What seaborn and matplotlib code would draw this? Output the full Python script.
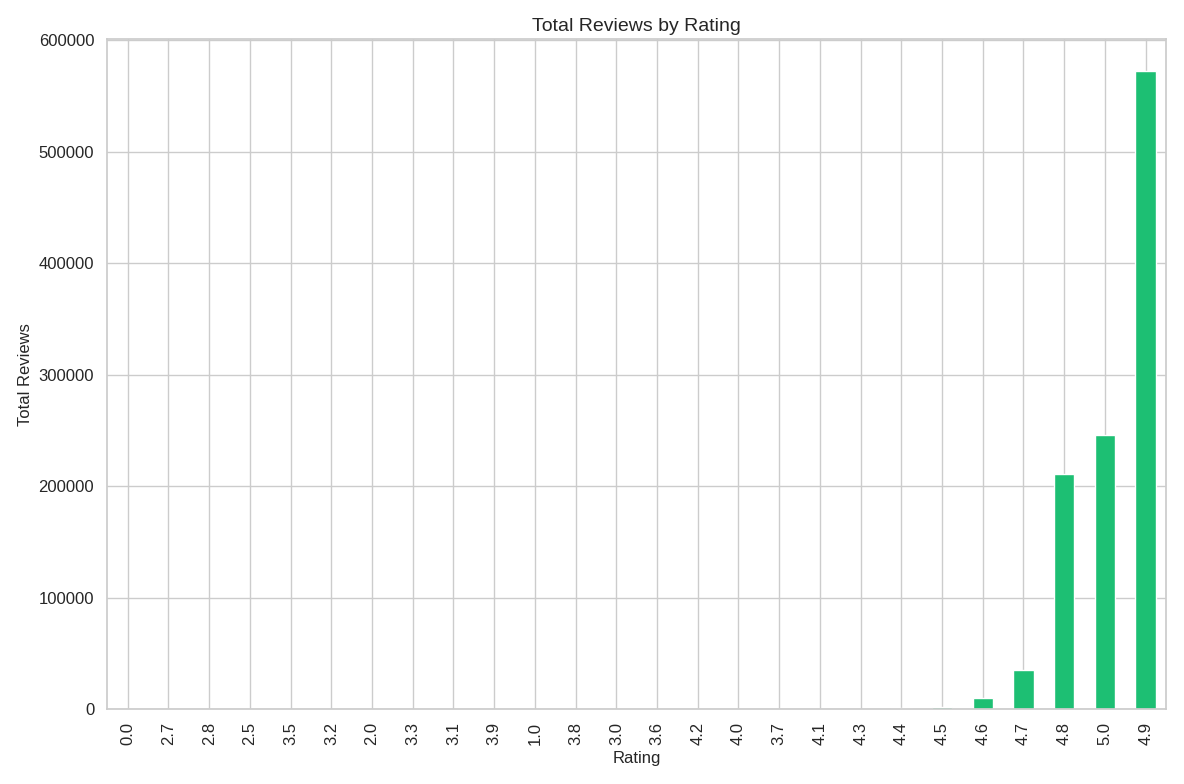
import matplotlib
matplotlib.use("Agg")
import matplotlib.pyplot as plt
import seaborn as sns
import pandas as pd

ratings = ["0.0", "2.7", "2.8", "2.5", "3.5", "3.2", "2.0", "3.3", "3.1", "3.9",
           "1.0", "3.8", "3.0", "3.6", "4.2", "4.0", "3.7", "4.1", "4.3", "4.4",
           "4.5", "4.6", "4.7", "4.8", "5.0", "4.9"]
total_reviews = [0, 2, 3, 5, 8, 10, 12, 15, 20, 30,
                 40, 55, 70, 90, 120, 160, 200, 260, 350, 600,
                 1500, 10000, 35000, 211000, 246000, 573000]

df = pd.DataFrame({"Rating": ratings, "Total Reviews": total_reviews})

sns.set_theme(style="whitegrid")
plt.rcParams["font.family"] = ["Liberation Sans", "DejaVu Sans"]
fig, ax = plt.subplots(figsize=(11.84, 7.84), dpi=100)
sns.barplot(data=df, x="Rating", y="Total Reviews", order=ratings,
            color="#1DBF73", saturation=1, width=0.5, ax=ax)
ax.set_title("Total Reviews by Rating", fontsize=14)
ax.set_xlabel("Rating", fontsize=12)
ax.set_ylabel("Total Reviews", fontsize=12)
ax.tick_params(axis="x", labelrotation=90, labelsize=12)
ax.tick_params(axis="y", labelsize=12)
ax.set_xlim(-0.5, len(ratings) - 0.5)
ax.set_ylim(0, 601000)
ax.xaxis.grid(True)
ax.ticklabel_format(axis="y", style="plain")
plt.tight_layout()
plt.savefig("out.png")
